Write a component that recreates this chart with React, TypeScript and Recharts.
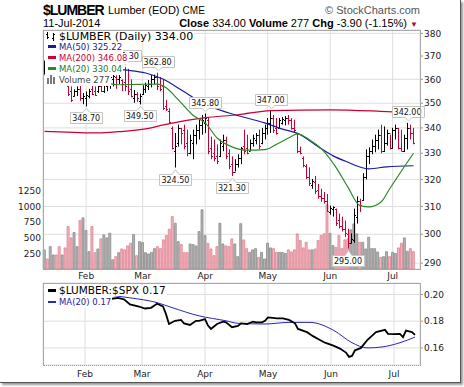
import React from 'react';
import { ComposedChart, Bar, Line, XAxis, YAxis, CartesianGrid, Cell, ReferenceDot } from 'recharts';

const FONT = '"DejaVu Sans", Verdana, sans-serif';
const HEAD = '"Liberation Sans", Arial, sans-serif';

const months = ['Jan', 'Feb', 'Mar', 'Apr', 'May', 'Jun', 'Jul'];
const tradingDays = [
  [13, 14, 15, 16, 17, 21, 22, 23, 24, 27, 28, 29, 30, 31],
  [3, 4, 5, 6, 7, 10, 11, 12, 13, 14, 18, 19, 20, 21, 24, 25, 26, 27, 28],
  [3, 4, 5, 6, 7, 10, 11, 12, 13, 14, 17, 18, 19, 20, 21, 24, 25, 26, 27, 28, 31],
  [1, 2, 3, 4, 7, 8, 9, 10, 11, 14, 15, 16, 17, 21, 22, 23, 24, 25, 28, 29, 30],
  [1, 2, 5, 6, 7, 8, 9, 12, 13, 14, 15, 16, 19, 20, 21, 22, 23, 27, 28, 29, 30],
  [2, 3, 4, 5, 6, 9, 10, 11, 12, 13, 16, 17, 18, 19, 20, 23, 24, 25, 26, 27, 30],
  [1, 2, 3, 7, 8, 9, 10, 11],
];
const monthTicks = ['Feb 3', 'Mar 3', 'Apr 1', 'May 1', 'Jun 2', 'Jul 1'];
const priceTicks = [290, 300, 310, 320, 330, 340, 350, 360, 370, 380];
const volumeTicks = [250, 500, 750, 1000, 1250];
const ratioTicks = [0.16, 0.18, 0.2];

// daily bars, Jan 13 .. Jul 11
const opens = [
  364, 365, 362, 364, 366, 364, 361, 362, 357, 355, 353, 355, 356, 352, 352, 353, 356, 355, 355, 357,
  355, 357, 359, 360, 361, 360, 359.5, 359, 358, 356, 352, 354, 351, 354, 356, 357, 358, 360, 361, 358,
  357, 349, 347, 340, 331, 334, 340, 339, 334, 330, 334, 337, 339, 341, 342, 343, 332, 330, 329, 329,
  333, 335, 330, 326, 323, 326, 328, 333, 332, 331, 334, 335, 337, 334, 338, 340, 342, 344, 340, 340,
  342, 343, 344, 343, 340, 338, 331, 328, 325, 321, 318, 319, 316, 314, 313, 312, 308, 309, 309, 305,
  303, 302, 300, 297, 298, 306, 312, 312.5, 321, 329, 331, 333, 335, 337, 331, 334, 338, 332, 339, 340,
  332, 331, 336, 340, 338,
];
const highs = [
  368, 367, 366, 368, 369, 366, 364, 365, 357.5, 357, 355.8, 357, 357.8, 354.2, 354.9, 356, 357.5, 357, 357.8, 358.2,
  358.6, 360.8, 362, 362.5, 361.7, 362, 360, 365.3, 364.5, 360, 355.5, 354.6, 354, 357.5, 358.6, 359.7, 361.8, 362, 362.8, 361,
  360, 351.4, 348, 340.6, 338, 341.3, 340, 341.3, 339.3, 337.3, 339.3, 341.3, 343.3, 345.2, 345.8, 344.4, 336.5, 335.4, 333.5, 335.4,
  337.3, 336.5, 331.5, 328.8, 327.7, 329.6, 332.5, 339.3, 337.3, 335.4, 337.3, 338, 339.3, 340, 341.3, 344, 347, 345.2, 344, 344,
  344.4, 344.8, 345.2, 344, 343.3, 338, 332.6, 328.8, 325.8, 324.6, 320.2, 321.3, 318.3, 316.5, 315.3, 314.6, 310.3, 310, 309.2, 307.4,
  306.3, 304.9, 302, 300.3, 309.2, 313.7, 312.8, 322.4, 331.5, 332.3, 335.4, 337.3, 339.3, 341.3, 340.6, 339.3, 337.3, 340, 341.3, 340,
  339.3, 337.3, 342, 341.3, 340,
];
const lows = [
  362, 361, 360, 362, 363, 359, 358.5, 359, 353, 350.5, 352.7, 353, 351, 349.6, 348.7, 352, 353.4, 353, 354.3, 354.7,
  354.3, 355, 356, 357, 356, 358, 355, 355, 353.4, 352.5, 350.2, 350.6, 349.5, 353.4, 354.3, 355.5, 356.6, 358, 355.5, 355,
  347.2, 346.8, 342, 331.5, 324.5, 332.6, 333.5, 331.5, 328.8, 329.6, 327.7, 333.5, 335.4, 337.3, 338, 329.6, 327.7, 326.9, 325.8, 328.5,
  330.8, 327.7, 323.9, 321.3, 323, 324.5, 325.8, 329.6, 329.6, 331, 332.6, 333.5, 331.5, 333.5, 335.4, 337.3, 338, 338, 337.3, 340,
  341.3, 341, 341.3, 339.3, 338, 330, 329.6, 324.6, 320.2, 317.6, 316.5, 314.6, 312.8, 311.7, 311, 308, 307, 306.3, 303, 302.1,
  301, 299, 295, 296.8, 297, 303.8, 308, 312, 320, 325.8, 329.6, 330.4, 331.5, 330, 330.5, 333, 331.5, 331.8, 335.4, 331.5,
  330.8, 330.5, 331.5, 335.4, 333.5,
];
const closes = [
  365, 363, 364, 366, 364, 361, 362, 360, 354, 351.5, 355, 356, 352, 353, 353.5, 355, 354, 353.5, 357, 355,
  358, 359, 361, 361.5, 360, 361, 358, 357, 355, 353, 354, 352, 353, 356, 357.5, 358, 360, 361, 357, 356,
  348, 347.5, 342.5, 332, 333, 340, 338, 333, 330, 335, 337, 339, 341, 343, 344, 331, 329, 328, 327, 334,
  335, 329, 325, 323, 326, 328, 332, 331, 330, 334, 336, 337, 333, 338, 340, 342, 344, 339, 338, 343,
  343.5, 344, 343, 340, 339, 331, 330, 325.5, 321, 318.5, 319.5, 315.5, 314, 313, 312, 308.5, 309.5, 309.8, 304, 303,
  302, 300.5, 297, 298.5, 307, 312, 310.5, 321, 329, 331, 333, 335, 337, 331, 334, 338, 332, 339, 340, 332,
  331, 336, 340, 337.9, 334,
];
const volumes = [
  305, 160, 357, 224, 224, 357, 224, 337, 678, 497, 582, 357, 774, 817, 614, 277, 678, 261, 320, 481,
  545, 497, 571, 149, 197, 261, 320, 305, 369, 411, 550, 213, 438, 422, 261, 240, 267, 325, 357, 325,
  465, 534, 635, 838, 731, 438, 390, 261, 261, 400, 390, 369, 598, 946, 534, 411, 320, 213, 357, 731,
  400, 369, 357, 481, 400, 197, 724, 465, 325, 266, 305, 325, 186, 266, 160, 411, 337, 325, 266, 266,
  266, 250, 305, 272, 305, 561, 454, 337, 427, 305, 305, 320, 454, 534, 561, 1031, 571, 374, 346, 534,
  325, 465, 481, 625, 721, 561, 427, 427, 320, 506, 325, 325, 272, 186, 197, 277, 197, 266, 250, 337,
  411, 497, 282, 325, 277,
];

// moving averages read at [bar index, value]
const ma20Pts = [
  [0, 362], [10, 360], [21, 358.3], [25, 357.7], [32, 357.9], [38, 358], [41, 356.3], [45, 351.4], [50, 345],
  [54, 342], [58, 336], [63, 332.5], [68, 331.2], [74, 331.4], [78, 333.5], [82, 336], [85, 337.6], [89, 335.3],
  [93, 331.8], [98, 324.5], [102, 317], [106, 310.3], [109, 309.8], [113, 311.5], [116, 316.5], [120, 323.3], [124, 330],
];
const ma50Pts = [
  [0, 366], [14, 365.5], [27, 364], [34, 362.7], [40, 360], [46, 355.5], [54, 349.5], [62, 346], [74, 342],
  [80, 339.5], [85, 337.8], [93, 331.8], [97, 329], [101, 327], [109, 324], [115, 324.8], [124, 325.2],
];
const ma200Pts = [
  [0, 338.6], [10, 338.2], [18, 338], [25, 338.5], [35, 339.8], [40, 341.2], [54, 344.1], [65, 345.3],
  [76, 347], [96, 347.3], [113, 346.7], [124, 346.1],
];
const ratioPts = [
  [23, 0.1968], [25, 0.1975], [27, 0.1963], [29, 0.1926], [32, 0.191], [34, 0.1895], [36, 0.19], [38, 0.1931],
  [40, 0.191], [41, 0.1853], [42, 0.1779], [44, 0.1803], [46, 0.181], [47, 0.1784], [49, 0.1772], [51, 0.1803],
  [52, 0.1803], [54, 0.1816], [55, 0.1767], [56, 0.1742], [58, 0.1779], [60, 0.1796], [61, 0.1791], [63, 0.1755],
  [65, 0.1764], [66, 0.1784], [68, 0.1779], [70, 0.1796], [71, 0.1791], [73, 0.1791], [74, 0.1803], [75, 0.1828],
  [78, 0.1821], [80, 0.1821], [82, 0.181], [84, 0.1784], [85, 0.1742], [88, 0.1718], [90, 0.1688], [92, 0.1663],
  [94, 0.1639], [97, 0.1615], [99, 0.1595], [101, 0.1565], [102, 0.1533], [103, 0.154], [104, 0.1582], [106, 0.16],
  [108, 0.1656], [110, 0.1698], [111, 0.1718], [114, 0.1735], [115, 0.1705], [117, 0.1703], [119, 0.1705],
  [120, 0.1681], [121, 0.173], [123, 0.1718], [124, 0.1698],
];
const ratioMaPts = [
  [23, 0.1993], [29, 0.1975], [38, 0.1939], [43, 0.1902], [52, 0.184], [61, 0.1803], [65, 0.1784], [74, 0.1779],
  [82, 0.1791], [89, 0.1791], [97, 0.173], [103, 0.1639], [108, 0.16], [113, 0.1607], [119, 0.1639], [124, 0.1681],
];

const peakTags = [
  { i: 27, v: 365.3 }, { i: 38, v: 362.8 }, { i: 54, v: 345.8 }, { i: 76, v: 347 }, { i: 122, v: 342 },
];
const troughTags = [
  { i: 14, v: 348.7 }, { i: 32, v: 349.5 }, { i: 44, v: 324.5 }, { i: 63, v: 321.3 }, { i: 102, v: 295 },
];

const dates = months.flatMap((m, k) => tradingDays[k].map((d) => `${m} ${d}`));

const spread = (pts: number[][]) => {
  const out: (number | null)[] = dates.map(() => null);
  pts.forEach(([i, v]) => {
    out[i] = v;
  });
  return out;
};
const ma20 = spread(ma20Pts);
const ma50 = spread(ma50Pts);
const ma200 = spread(ma200Pts);
const ratio = spread(ratioPts);
const ratioMa = spread(ratioMaPts);

const rows = dates.map((date, i) => ({
  date,
  open: opens[i],
  high: highs[i],
  low: lows[i],
  close: closes[i],
  range: [lows[i], highs[i]],
  volume: volumes[i],
  up: i === 0 || closes[i] >= closes[i - 1],
  ma20: ma20[i],
  ma50: ma50[i],
  ma200: ma200[i],
  ratio: ratio[i],
  ratioMa: ratioMa[i],
}));

const UP = '#000';
const DOWN = '#cc0033';

const OhlcBar = (props: any) => {
  const { x, y, width, height, payload } = props;
  if (x == null || y == null || !payload) return null;
  const top = Math.min(y, y + height);
  const span = Math.abs(height);
  const lh = Math.log(payload.high);
  const ll = Math.log(payload.low);
  const at = (v: number) => (lh > ll ? top + (span * (lh - Math.log(v))) / (lh - ll) : top);
  const cx = Math.round(x + width / 2) + 0.5;
  const yo = Math.round(at(payload.open)) + 0.5;
  const yc = Math.round(at(payload.close)) + 0.5;
  return (
    <g stroke={payload.up ? UP : DOWN} strokeWidth={1}>
      <line x1={cx} x2={cx} y1={top} y2={top + span} />
      <line x1={cx - 1.5} x2={cx} y1={yo} y2={yo} />
      <line x1={cx} x2={cx + 1.5} y1={yc} y2={yc} />
    </g>
  );
};

const tagShape = (text: string, below: boolean) => (p: any) => {
  const { cx, cy } = p;
  if (cx == null || cy == null) return null;
  const w = 32;
  const h = 11;
  const x0 = Math.round(cx - w / 2) + 0.5;
  const x1 = x0 + w;
  const mid = Math.round(cx) + 0.5;
  const edge = below ? Math.round(cy + 6) + 0.5 : Math.round(cy - 6) + 0.5;
  const far = below ? edge + h : edge - h;
  const tip = below ? cy + 2 : cy - 2;
  const d = `M${x0},${edge} L${mid - 3.5},${edge} L${mid},${tip} L${mid + 3.5},${edge} L${x1},${edge} L${x1},${far} L${x0},${far} Z`;
  const boxTop = Math.min(edge, far);
  return (
    <g>
      <path d={d} fill="#fff" stroke="#c4c4c4" strokeWidth={1} />
      <text x={cx} y={boxTop + 8.6} textAnchor="middle" fontSize={8} fontFamily={FONT} fill="#111">
        {text}
      </text>
    </g>
  );
};

const axisTick = { fontSize: 9, fill: '#222', fontFamily: FONT };
const monthName = (v: string) => v.split(' ')[0];

const LegendLine = ({ top, left = 45, size = 8.5, color, mark, children }: any) => (
  <div
    style={{
      position: 'absolute',
      left,
      top,
      height: 11,
      lineHeight: '11px',
      fontSize: size,
      fontFamily: FONT,
      color,
      background: '#fff',
      whiteSpace: 'nowrap',
      paddingRight: 1,
    }}
  >
    {mark}
    {children}
  </div>
);

const dash = (c: string) => (
  <span style={{ display: 'inline-block', width: 8, height: 2.5, background: c, verticalAlign: 'middle', margin: '0 3px 1px 3px' }} />
);

export default function App() {
  return (
    <div style={{ position: 'absolute', left: 0, top: 0, width: 464, height: 387, background: '#fff', overflow: 'hidden' }}>
      <div
        style={{
          position: 'absolute',
          left: 0,
          top: 0,
          width: 461,
          height: 383,
          boxSizing: 'border-box',
          borderRight: '1px solid #555',
          borderBottom: '1px solid #555',
          boxShadow: '2px 2px 2px rgba(0,0,0,0.4)',
          background: '#fff',
        }}
      />

      {/* header */}
      <div style={{ position: 'absolute', left: 43, top: 3, font: `bold 14px ${HEAD}`, lineHeight: '14px', letterSpacing: -1 }}>$LUMBER</div>
      <div style={{ position: 'absolute', left: 108, top: 5, font: `11px ${HEAD}`, lineHeight: '11px' }}>
        Lumber (EOD) <span style={{ fontSize: 10 }}>CME</span>
      </div>
      <div style={{ position: 'absolute', right: 44, top: 5, font: `11px ${HEAD}`, lineHeight: '11px', color: '#555' }}>
        © StockCharts.com
      </div>
      <div style={{ position: 'absolute', left: 43, top: 17.5, font: `11px ${HEAD}`, lineHeight: '11px' }}>11-Jul-2014</div>
      <div style={{ position: 'absolute', right: 46, top: 17.5, font: `11px ${HEAD}`, lineHeight: '11px', whiteSpace: 'nowrap' }}>
        <b>Close</b> 334.00 <b>Volume</b> 277 <b>Chg</b> -3.90 (-1.15%) <span style={{ color: '#a0103a', fontSize: 8 }}>▼</span>
      </div>

      {/* grid + volume layer */}
      <div style={{ position: 'absolute', left: 0, top: 0 }}>
        <ComposedChart width={464} height={290} data={rows} margin={{ top: 30, right: 4, bottom: 3, left: 3 }}>
          <CartesianGrid stroke="#dedede" />
          <XAxis
            dataKey="date"
            ticks={monthTicks}
            interval={0}
            tickFormatter={monthName}
            padding={{ left: 0, right: 5 }}
            axisLine={false}
            tickLine={false}
            tickSize={0}
            tickMargin={4}
            height={18}
            tick={axisTick}
          />
          <YAxis
            orientation="right"
            scale="log"
            domain={[288, 381.5]}
            allowDataOverflow
            ticks={priceTicks}
            width={40}
            axisLine={false}
            tickSize={3}
            tickMargin={1}
            tickLine={{ stroke: '#999' }}
            tick={axisTick}
          />
          <YAxis
            yAxisId="vol"
            orientation="left"
            domain={[0, 3819]}
            ticks={volumeTicks}
            width={40}
            axisLine={false}
            tickLine={false}
            tickSize={0}
            tickMargin={2}
            tick={axisTick}
          />
          <Bar yAxisId="vol" dataKey="volume" isAnimationActive={false} strokeWidth={0.8}>
            {rows.map((r) => (
              <Cell key={r.date} fill={r.up ? '#b4b4b4' : '#f3b6bf'} stroke={r.up ? '#8a8a8a' : '#de7f8e'} />
            ))}
          </Bar>
        </ComposedChart>
      </div>

      {/* price layer */}
      <div style={{ position: 'absolute', left: 0, top: 0 }}>
        <ComposedChart width={464} height={290} data={rows} margin={{ top: 30, right: 44, bottom: 21, left: 43 }}>
          <XAxis dataKey="date" hide padding={{ left: 0, right: 5 }} />
          <YAxis hide scale="log" domain={[288, 381.5]} allowDataOverflow />
          <Bar dataKey="range" shape={OhlcBar} isAnimationActive={false} />
          <Line dataKey="ma200" stroke="#cc0033" strokeWidth={1.2} dot={false} connectNulls type="monotone" isAnimationActive={false} />
          <Line dataKey="ma50" stroke="#1c1c9a" strokeWidth={1.2} dot={false} connectNulls type="monotone" isAnimationActive={false} />
          <Line dataKey="ma20" stroke="#2a8a2a" strokeWidth={1.2} dot={false} connectNulls type="monotone" isAnimationActive={false} />
          {peakTags.map((t) => (
            <ReferenceDot key={`p${t.i}`} x={dates[t.i]} y={t.v} r={0} shape={tagShape(t.v.toFixed(2), false)} />
          ))}
          {troughTags.map((t) => (
            <ReferenceDot key={`t${t.i}`} x={dates[t.i]} y={t.v} r={0} shape={tagShape(t.v.toFixed(2), true)} />
          ))}
        </ComposedChart>
      </div>

      <div style={{ position: 'absolute', left: 43, top: 30, width: 378, height: 240, boxSizing: 'border-box', border: '1px solid #a8a8a8' }} />

      {/* main legend */}
      <LegendLine top={30.7} size={11} color="#000" mark={
        <svg width={12} height={10} style={{ verticalAlign: 'middle', margin: '0 2px 1px 0' }}>
          <g stroke="#000" strokeWidth={1}>
            <line x1={2.5} x2={2.5} y1={1} y2={8} />
            <line x1={1} x2={2.5} y1={3.5} y2={3.5} />
            <line x1={2.5} x2={4} y1={6.5} y2={6.5} />
            <line x1={8.5} x2={8.5} y1={2} y2={10} />
            <line x1={7} x2={8.5} y1={7.5} y2={7.5} />
            <line x1={8.5} x2={10} y1={3.5} y2={3.5} />
          </g>
        </svg>
      }>
        $LUMBER (Daily) 334.00
      </LegendLine>
      <LegendLine top={41.5} color="#1c1c8c" mark={dash('#1c1c9a')}>MA(50) 325.22</LegendLine>
      <LegendLine top={52.5} color="#cc0033" mark={dash('#cc0033')}>MA(200) 346.08</LegendLine>
      <LegendLine top={63.5} color="#1f7a1f" mark={dash('#2a8a2a')}>MA(20) 330.04</LegendLine>
      <LegendLine top={74.5} color="#444" mark={
        <svg width={12} height={9} style={{ verticalAlign: 'middle', margin: '0 1px 1px 1px' }}>
          <rect x={1} y={3} width={2} height={6} fill="#777" />
          <rect x={4} y={0} width={2} height={9} fill="#777" />
          <rect x={7} y={2} width={2} height={7} fill="#777" />
        </svg>
      }>
        Volume 277
      </LegendLine>

      {/* relative strength panel */}
      <div style={{ position: 'absolute', left: 0, top: 270 }}>
        <ComposedChart width={464} height={115} data={rows} margin={{ top: 13, right: 4, bottom: 2, left: 43 }}>
          <CartesianGrid stroke="#dedede" />
          <XAxis
            dataKey="date"
            ticks={monthTicks}
            interval={0}
            tickFormatter={monthName}
            padding={{ left: 0, right: 5 }}
            axisLine={false}
            tickLine={false}
            tickSize={0}
            tickMargin={6}
            height={18}
            tick={axisTick}
          />
          <YAxis
            orientation="right"
            domain={[0.1472, 0.2086]}
            allowDataOverflow
            ticks={ratioTicks}
            tickFormatter={(v: number) => v.toFixed(2)}
            width={40}
            axisLine={false}
            tickSize={3}
            tickMargin={1}
            tickLine={{ stroke: '#999' }}
            tick={axisTick}
          />
          <Line dataKey="ratioMa" stroke="#2828b0" strokeWidth={1} dot={false} connectNulls type="monotone" isAnimationActive={false} />
          <Line dataKey="ratio" stroke="#000" strokeWidth={1.8} dot={false} connectNulls type="linear" isAnimationActive={false} />
        </ComposedChart>
      </div>
      <div
        style={{
          position: 'absolute',
          left: 43,
          top: 283,
          width: 378,
          height: 83,
          boxSizing: 'border-box',
          borderTop: '1px solid #a8a8a8',
          borderLeft: '1px solid #a8a8a8',
          borderRight: '1px solid #a8a8a8',
          borderBottom: '1px dotted #999',
        }}
      />
      <LegendLine top={285} size={10.5} color="#000" mark={dash('#000')}>$LUMBER:$SPX 0.17</LegendLine>
      <LegendLine top={297} color="#1c1c9a" mark={dash('#2828b0')}>MA(20) 0.17</LegendLine>
    </div>
  );
}
